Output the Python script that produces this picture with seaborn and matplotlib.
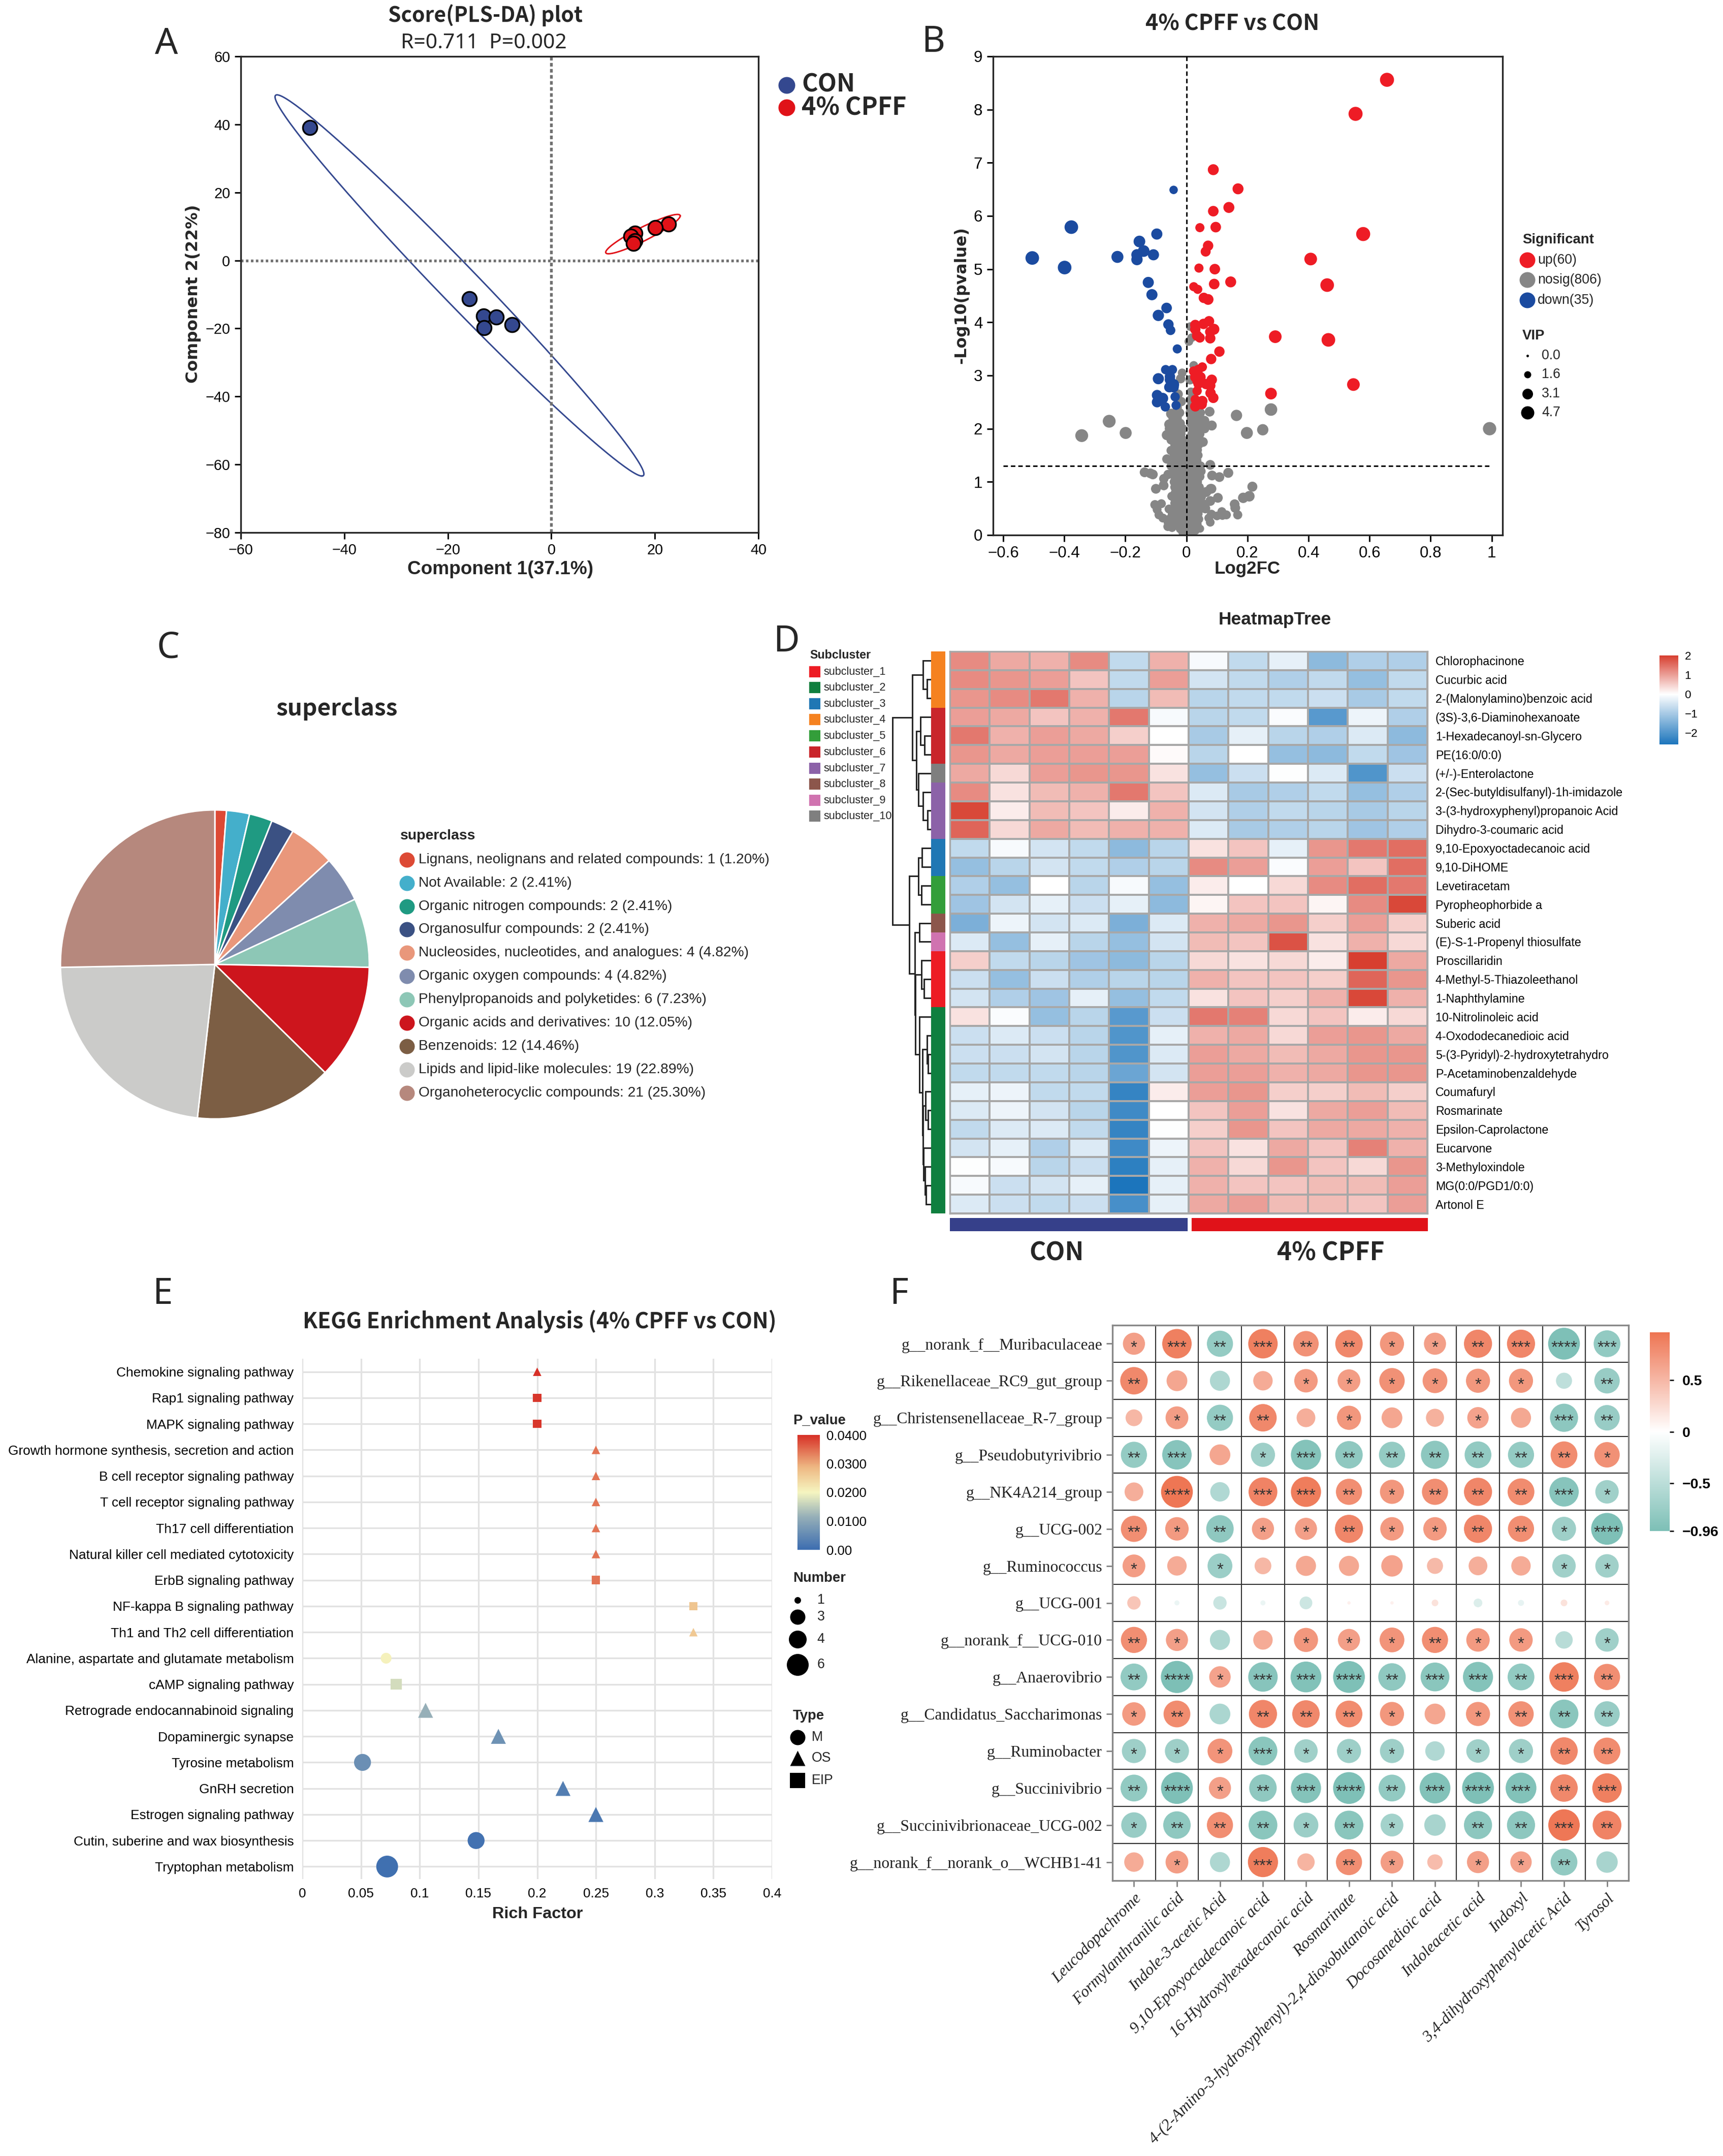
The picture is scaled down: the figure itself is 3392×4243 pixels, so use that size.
import numpy as np
import pandas as pd
import seaborn as sns
import matplotlib
matplotlib.use('Agg')
import matplotlib.pyplot as plt
from matplotlib.colors import LinearSegmentedColormap, ListedColormap, Normalize
from matplotlib.cm import ScalarMappable

W, H = 3392, 4243
DPI = 300
HEAD_FONT = 'Noto Sans CJK SC'

# ---------- panel A
con_x = [-46.7, -15.8, -13.1, -10.6, -13.0, -7.6]
con_y = [39.1, -11.3, -16.4, -16.7, -19.8, -18.9]
cpff_x = [22.6, 20.1, 16.2, 15.4, 16.2, 15.9]
cpff_y = [10.7, 9.7, 8.0, 7.1, 5.8, 5.0]
blue_ell = [-17.75, -7.35, 35.25, -56.05, 5.2, 0.0]
red_ell = [17.7, 7.75, 7.2, 5.35, 0.0, 2.2]

# ---------- panel B  (x, y, vip)
up_pts = [(.657, 8.56, 4.7), (.554, 7.92, 4.7), (.088, 6.87, 2.8), (.169, 6.51, 2.8), (.139, 6.16, 2.8),
          (.088, 6.09, 2.6), (.096, 5.79, 2.6), (.044, 5.78, 1.9), (.579, 5.66, 4.7), (.071, 5.44, 2.5),
          (.063, 5.33, 2.3), (.407, 5.19, 3.8), (.093, 5.0, 2.6), (.041, 5.02, 1.9), (.461, 4.70, 4.4),
          (.145, 4.76, 2.8), (.091, 4.72, 2.6), (.024, 4.67, 1.9), (.037, 4.62, 1.9), (.057, 4.46, 2.5),
          (.071, 4.43, 2.7), (.074, 4.02, 2.5), (.056, 3.97, 2.5), (.029, 3.95, 2.5), (.029, 3.87, 2.5),
          (.09, 3.87, 2.8), (.078, 3.82, 2.5), (.035, 3.75, 2.5), (.044, 3.71, 2.2), (.078, 3.70, 2.5),
          (.291, 3.73, 3.8), (.465, 3.67, 4.4), (.108, 3.45, 2.5), (.081, 3.31, 2.5), (.052, 3.16, 2.0),
          (.039, 3.11, 2.2), (.024, 3.08, 2.2), (.029, 2.97, 2.5), (.046, 2.97, 2.5), (.037, 2.90, 2.8),
          (.083, 2.92, 2.5), (.064, 2.84, 2.5), (.039, 2.84, 2.2), (.078, 2.81, 2.5), (.547, 2.83, 3.8),
          (.035, 2.71, 2.0), (.079, 2.67, 2.5), (.277, 2.66, 3.2), (.088, 2.58, 2.5), (.029, 2.55, 2.0),
          (.052, 2.52, 2.5), (.05, 2.46, 2.5), (.029, 2.42, 2.5)]
down_pts = [(-.377, 5.79, 4.4), (-.505, 5.21, 4.4), (-.399, 5.03, 4.4), (-.226, 5.23, 3.4), (-.097, 5.66, 2.9),
            (-.154, 5.52, 3.2), (-.14, 5.34, 3.2), (-.162, 5.27, 3.0), (-.108, 5.27, 2.9), (-.162, 5.18, 3.0),
            (-.042, 6.49, 1.6), (-.125, 4.75, 2.9), (-.113, 4.52, 2.9), (-.065, 4.27, 2.6), (-.092, 4.13, 3.0),
            (-.059, 3.96, 2.5), (-.052, 3.85, 2.1), (-.03, 3.50, 1.9), (-.068, 3.11, 2.0), (-.046, 3.11, 2.0),
            (-.092, 2.94, 2.9), (-.054, 2.98, 2.5), (-.054, 2.92, 2.5), (-.042, 2.83, 2.9), (-.056, 2.78, 2.5),
            (-.042, 2.78, 2.5), (-.096, 2.63, 2.6), (-.078, 2.57, 2.9), (-.096, 2.50, 2.6), (-.037, 2.60, 2.0),
            (-.069, 2.41, 2.0), (-.034, 2.44, 1.9)]
nosig_big = [(-.253, 2.14, 3.9), (-.343, 1.87, 3.9), (-.199, 1.92, 3.4), (.993, 2.0, 4.2), (.277, 2.36, 3.7),
             (.164, 2.25, 3.0), (.25, 1.98, 3.0), (.198, 1.92, 3.4)]
nosig_mid = [(.013, 3.92, 1.7), (.017, 3.71, 1.7), (.008, 3.64, 1.7), (.024, 3.19, 1.7), (-.014, 3.05, 1.7),
             (-.019, 2.94, 2.0), (.012, 2.92, 2.0), (-.027, 2.65, 2.0), (.015, 2.69, 1.8), (-.017, 2.51, 2.0),
             (.012, 2.54, 1.8), (.012, 2.40, 1.8), (.076, 2.32, 2.2), (.059, 2.15, 2.2), (.083, 2.06, 2.3),
             (.054, 1.75, 2.2), (.078, 1.32, 2.2), (.084, 1.12, 2.2), (.108, 1.09, 2.2), (.137, 1.17, 2.3),
             (.079, .87, 2.2), (.065, .81, 2.3), (.103, .70, 2.2), (.078, .64, 2.2), (.06, .57, 2.2), (.062, .5, 2.2),
             (.048, .72, 2.2), (.082, .87, 2.2), (.082, .39, 1.9), (.073, .32, 1.7), (.078, .24, 1.7), (.1, .36, 1.7),
             (.116, .44, 1.8), (.131, .38, 1.8), (.118, .37, 1.8), (.158, .58, 2.2), (.16, .51, 2.2), (.168, .38, 1.9),
             (.186, .70, 2.5), (.206, .73, 2.6), (.216, .91, 2.3), (.045, .12, 1.4), (.03, .08, 1.4), (-.013, .09, 1.4),
             (-.1, .87, 2.2), (-.075, .94, 2.0), (-.048, .73, 1.8), (-.082, .59, 1.8), (-.103, .57, 2.0),
             (-.096, .48, 1.8), (-.09, .38, 1.8), (-.077, .32, 1.8), (-.06, .24, 1.8), (-.061, .16, 1.8),
             (-.047, .14, 1.7), (-.057, .49, 1.8), (-.047, .39, 1.7), (-.057, .3, 1.7), (-.038, .22, 1.7),
             (-.03, .36, 1.6), (-.137, 1.18, 2.2), (-.118, 1.16, 2.2), (-.11, 1.14, 2.2), (-.074, 1.06, 2.0),
             (-.074, .93, 2.0), (-.06, 1.14, 2.0), (-.064, 1.43, 2.0), (-.05, 1.59, 2.0), (-.05, 1.79, 2.0),
             (-.064, 1.88, 2.4), (-.056, 2.08, 2.4), (-.04, 2.26, 2.4), (-.05, 2.28, 2.4)]
# grey column around zero, read level by level
nosig_rows = {
    .06: [-.012, .0, .012, .02], .12: [-.02, -.006, .006, .016, .03], .2: [-.028, -.014, .0, .01, .022, .035],
    .3: [-.03, -.018, -.006, .006, .018, .03, .04], .4: [-.035, -.022, -.01, .002, .014, .026, .038],
    .5: [-.04, -.026, -.012, .0, .012, .024, .036, .046], .6: [-.038, -.024, -.01, .004, .016, .028, .04, .05],
    .7: [-.04, -.028, -.014, .0, .01, .022, .034, .044], .8: [-.036, -.024, -.01, .002, .014, .026, .038],
    .9: [-.038, -.026, -.012, .004, .016, .03, .042], 1.0: [-.04, -.028, -.014, .0, .012, .024, .036],
    1.1: [-.038, -.024, -.01, .006, .018, .03, .044], 1.2: [-.042, -.03, -.016, .002, .014, .026, .038, .048],
    1.3: [-.05, -.034, -.02, -.006, .01, .022, .034, .046], 1.4: [-.036, -.022, -.008, .008, .02, .034],
    1.5: [-.04, -.026, -.012, .012, .024, .038], 1.6: [-.034, -.02, -.006, .01, .022, .036],
    1.7: [-.038, -.024, -.012, .014, .026, .04], 1.8: [-.042, -.028, -.014, .012, .022, .032],
    1.9: [-.05, -.034, -.018, .018, .03, .044], 2.0: [-.056, -.042, -.026, -.012, .02, .034, .05, .06],
    2.1: [-.05, -.036, -.02, .014, .028, .042, .056], 2.2: [-.044, -.03, .016, .03, .044],
    2.3: [-.036, -.022, .012, .034, .046], 2.4: [-.03, .02, .04]}

sig_labels = ['up(60)', 'nosig(806)', 'down(35)']
vip_labels = ['0.0', '1.6', '3.1', '4.7']

# ---------- panel C
super_names = ['Lignans, neolignans and related compounds', 'Not Available', 'Organic nitrogen compounds',
               'Organosulfur compounds', 'Nucleosides, nucleotides, and analogues', 'Organic oxygen compounds',
               'Phenylpropanoids and polyketides', 'Organic acids and derivatives', 'Benzenoids',
               'Lipids and lipid-like molecules', 'Organoheterocyclic compounds']
super_vals = [1, 2, 2, 2, 4, 4, 6, 10, 12, 19, 21]
super_pct = ['1.20', '2.41', '2.41', '2.41', '4.82', '4.82', '7.23', '12.05', '14.46', '22.89', '25.30']
super_cols = ['#dd4a35', '#44afcb', '#1f9a82', '#3b5183', '#e9977b', '#7f8cae', '#8dc7b6', '#cd151d', '#7c5e44',
              '#cbcbc9', '#b6887d']

# ---------- panel D
met_names = ['Chlorophacinone', 'Cucurbic acid', '2-(Malonylamino)benzoic acid', '(3S)-3,6-Diaminohexanoate',
             '1-Hexadecanoyl-sn-Glycero', 'PE(16:0/0:0)', '(+/-)-Enterolactone', '2-(Sec-butyldisulfanyl)-1h-imidazole',
             '3-(3-hydroxyphenyl)propanoic Acid', 'Dihydro-3-coumaric acid', '9,10-Epoxyoctadecanoic acid', '9,10-DiHOME',
             'Levetiracetam', 'Pyropheophorbide a', 'Suberic acid', '(E)-S-1-Propenyl thiosulfate', 'Proscillaridin',
             '4-Methyl-5-Thiazoleethanol', '1-Naphthylamine', '10-Nitrolinoleic acid', '4-Oxododecanedioic acid',
             '5-(3-Pyridyl)-2-hydroxytetrahydro', 'P-Acetaminobenzaldehyde', 'Coumafuryl', 'Rosmarinate',
             'Epsilon-Caprolactone', 'Eucarvone', '3-Methyloxindole', 'MG(0:0/PGD1/0:0)', 'Artonol E']
heat_vals = [
    [1.2, .9, .8, 1.2, -.7, .8, -.1, -.7, -.3, -1.3, -.9, -.9],
    [1.2, 1.1, 1.0, .6, -.7, 1.0, -.5, -.7, -.9, -.7, -1.2, -.7],
    [1.1, 1.2, 1.4, .8, -.8, .7, -.8, -.7, -.7, -.6, -1.0, -.7],
    [1.0, .9, .6, .8, 1.4, -.1, -.8, -.7, -.05, -1.9, -.2, -.9],
    [1.4, .8, 1.0, .9, .5, 0, -1.0, -.3, -.8, -.9, -.4, -1.3],
    [1.1, .9, 1.0, 1.0, 1.0, .05, -.8, 0, -1.2, -1.3, -.7, -1.1],
    [.9, .4, 1.0, 1.1, 1.1, .3, -1.2, -.6, -.03, -.4, -2.0, -.6],
    [1.2, .3, .7, .8, 1.4, .6, -.4, -1.0, -.9, -.7, -1.2, -.9],
    [1.9, .2, .7, .6, .2, .8, -.5, -.9, -.7, -.8, -1.0, -.8],
    [1.6, .4, .9, .7, .8, .8, -.4, -1.0, -.9, -.8, -1.1, -.9],
    [-.7, -.1, -.5, -.7, -1.3, -.8, .3, .6, -.3, 1.1, 1.4, 1.5],
    [-1.2, -.8, -.5, -.7, -.9, -.8, 1.2, 1.0, -.05, 1.0, .6, 1.5],
    [-.9, -1.2, 0, -.8, -.1, -1.2, .2, 0, .4, 1.2, 1.5, 1.4],
    [-1.1, -.5, -.3, -.6, -.3, -1.3, .1, .6, .6, .1, 1.2, 1.9],
    [-1.5, -.2, -.5, -.4, -1.5, -.4, .8, .9, 1.1, .5, 1.0, .5],
    [-.4, -1.2, -.3, -.8, -1.2, -.5, .7, .6, 1.8, .3, .8, .4],
    [.5, -.7, -.8, -1.1, -1.3, -.8, .4, .3, .4, .2, 2.0, .9],
    [-.6, -1.2, -.6, -.9, -.8, -.8, .8, .6, .6, .5, 1.6, 1.1],
    [-.5, -.9, -1.1, -.3, -1.2, -.7, .3, .6, .5, .8, 1.9, .8],
    [.3, -.05, -1.2, -.8, -1.9, -.6, 1.4, 1.3, .4, .6, .2, .4],
    [-.6, -.4, -.6, -.8, -2.0, -.3, .8, .9, .4, 1.0, 1.1, .9],
    [-.6, -.6, -.5, -.8, -2.0, -.4, 1.0, .9, .7, .9, 1.1, 1.1],
    [-.7, -.7, -.7, -.8, -1.7, -.5, 1.0, 1.0, .8, .9, 1.1, 1.1],
    [-.3, -.2, -.7, -.7, -2.3, .2, 1.0, 1.1, .5, .5, .7, .5],
    [-.4, -.2, -.5, -.8, -2.2, 0, .6, 1.0, .3, .9, 1.0, .7],
    [-.7, -.4, -.4, -.7, -2.3, -.02, .5, 1.1, .6, .9, .9, .8],
    [-.5, -.3, -.9, -.4, -2.2, -.2, .6, .3, .9, .6, 1.3, .8],
    [-.02, -.1, -.8, -.6, -2.4, -.3, .8, .4, 1.1, .6, .4, 1.1],
    [-.1, -.6, -.5, -.3, -2.6, -.3, .8, .6, .6, .7, .7, 1.0],
    [-.4, -.6, -.7, -.6, -2.1, -.3, .9, 1.0, .7, .7, .6, 1.0]]
sub_names = ['subcluster_%d' % i for i in range(1, 11)]
sub_cols = ['#ed1c24', '#0f7f3f', '#1f77b4', '#f58220', '#339e3a', '#c9252b', '#8c62a8', '#8c564b', '#d073b0', '#7f7f7f']
row_sub = [3, 3, 3, 5, 5, 5, 9, 6, 6, 6, 2, 2, 4, 4, 7, 8, 0, 0, 0] + [1] * 11
# dendrogram: (height, child, child), leaves are row numbers
tree = (76,
        (37,
         (16, 0, (8, 1, 2)),
         (29,
          (21, 3, (13, 4, 5)),
          (25, 6, (16, 7, (7, 8, 9))))),
        (43,
         (25, (18, 10, 11), (19, 12, 13)),
         (32,
          (23, 14, 15),
          (31,
           (19, 16, (14, 17, 18)),
           (23, 19,
            (17,
             (8, 20, (6, 21, 22)),
             (16,
              (11, 23, (6, 24, 25)),
              (15, 26, (12, 27, (10, 28, 29))))))))))

# ---------- panel E
path_names = ['Chemokine signaling pathway', 'Rap1 signaling pathway', 'MAPK signaling pathway',
              'Growth hormone synthesis, secretion and action', 'B cell receptor signaling pathway',
              'T cell receptor signaling pathway', 'Th17 cell differentiation', 'Natural killer cell mediated cytotoxicity',
              'ErbB signaling pathway', 'NF-kappa B signaling pathway', 'Th1 and Th2 cell differentiation',
              'Alanine, aspartate and glutamate metabolism', 'cAMP signaling pathway', 'Retrograde endocannabinoid signaling',
              'Dopaminergic synapse', 'Tyrosine metabolism', 'GnRH secretion', 'Estrogen signaling pathway',
              'Cutin, suberine and wax biosynthesis', 'Tryptophan metabolism']
rich = [.2, .2, .2, .25, .25, .25, .25, .25, .25, .333, .333, .0714, .08, .105, .167, .0513, .222, .25, .148, .0723]
pval = [.04, .0395, .0395, .0345, .0345, .0345, .0345, .0345, .0345, .027, .0265, .0205, .017, .0115, .0065, .006, .003,
        .002, .001, .0005]
number = [1, 1, 1, 1, 1, 1, 1, 1, 1, 1, 1, 2, 2, 3, 3, 4, 3, 3, 4, 6]
ptype = ['OS', 'EIP', 'EIP', 'OS', 'OS', 'OS', 'OS', 'OS', 'EIP', 'EIP', 'OS', 'M', 'EIP', 'OS', 'OS', 'M', 'OS', 'OS', 'M', 'M']

# ---------- panel F
genus = ['g__norank_f__Muribaculaceae', 'g__Rikenellaceae_RC9_gut_group', 'g__Christensenellaceae_R-7_group',
         'g__Pseudobutyrivibrio', 'g__NK4A214_group', 'g__UCG-002', 'g__Ruminococcus', 'g__UCG-001', 'g__norank_f__UCG-010',
         'g__Anaerovibrio', 'g__Candidatus_Saccharimonas', 'g__Ruminobacter', 'g__Succinivibrio',
         'g__Succinivibrionaceae_UCG-002', 'g__norank_f__norank_o__WCHB1-41']
metab = ['Leucodopachrome', 'Formylanthranilic acid', 'Indole-3-acetic Acid', '9,10-Epoxyoctadecanoic acid',
         '16-Hydroxyhexadecanoic acid', 'Rosmarinate', '4-(2-Amino-3-hydroxyphenyl)-2,4-dioxobutanoic acid',
         'Docosanedioic acid', 'Indoleacetic acid', 'Indoxyl', '3,4-dihydroxyphenylacetic Acid', 'Tyrosol']
corr = [[.66, .88, -.78, .88, .76, .82, .72, .66, .84, .84, -.95, -.80],
        [.82, .62, -.6, .58, .7, .68, .76, .74, .72, .72, -.48, -.76],
        [.5, .68, -.78, .82, .56, .72, .62, .54, .64, .6, -.84, -.76],
        [-.78, -.88, .62, -.72, -.9, -.82, -.78, -.84, -.8, -.78, .8, .76],
        [.56, .95, -.58, .86, .9, .78, .72, .78, .84, .8, -.88, -.7],
        [.78, .7, -.82, .66, .66, .84, .7, .7, .84, .78, -.72, -.95],
        [.68, .58, -.74, .5, .6, .6, .64, .48, .56, .58, -.7, -.7],
        [.4, -.15, -.4, -.15, -.38, .1, .1, .2, -.26, -.18, .2, .14],
        [.78, .66, -.6, .58, .72, .66, .74, .78, .7, .7, -.52, -.7],
        [-.8, -.96, .64, -.88, -.92, -.95, -.82, -.86, -.9, -.8, .88, .78],
        [.7, .8, -.62, .84, .82, .8, .72, .62, .72, .76, -.86, -.76],
        [-.72, -.72, .74, -.86, -.7, -.72, -.72, -.58, -.7, -.72, .82, .8],
        [-.8, -.95, .66, -.82, -.9, -.95, -.8, -.92, -.95, -.92, .82, .88],
        [-.76, -.82, .78, -.86, -.74, -.86, -.68, -.64, -.84, -.84, .94, .86],
        [.58, .68, -.6, .9, .52, .78, .68, .46, .66, .64, -.8, -.64]]
stars = [[1, 3, 2, 3, 2, 2, 1, 1, 2, 3, 4, 3],
         [2, 0, 0, 0, 1, 1, 1, 1, 1, 1, 0, 2],
         [0, 1, 2, 2, 0, 1, 0, 0, 1, 0, 3, 2],
         [2, 3, 0, 1, 3, 2, 2, 2, 2, 2, 2, 1],
         [0, 4, 0, 3, 3, 2, 1, 2, 2, 2, 3, 1],
         [2, 1, 2, 1, 1, 2, 1, 1, 2, 2, 1, 4],
         [1, 0, 1, 0, 0, 0, 0, 0, 0, 0, 1, 1],
         [0, 0, 0, 0, 0, 0, 0, 0, 0, 0, 0, 0],
         [2, 1, 0, 0, 1, 1, 1, 2, 1, 1, 0, 1],
         [2, 4, 1, 3, 3, 4, 2, 3, 3, 2, 3, 2],
         [1, 2, 0, 2, 2, 2, 1, 0, 1, 2, 2, 2],
         [1, 1, 1, 3, 1, 1, 1, 0, 1, 1, 2, 2],
         [2, 4, 1, 2, 3, 4, 2, 3, 4, 3, 2, 3],
         [1, 2, 2, 2, 1, 2, 1, 0, 2, 2, 3, 2],
         [0, 1, 0, 3, 0, 2, 1, 0, 1, 1, 2, 0]]

sns.set_style('ticks')
plt.rcParams['font.family'] = ['Liberation Sans', 'DejaVu Sans']
plt.rcParams['axes.linewidth'] = 0.8
plt.rcParams['xtick.major.width'] = 0.7
plt.rcParams['ytick.major.width'] = 0.7
plt.rcParams['xtick.color'] = 'black'
plt.rcParams['ytick.color'] = 'black'

fig = plt.figure(figsize=(W / DPI, H / DPI), dpi=DPI)


def box(l, t, r, b):
    # axes from pixel edges of the page
    return fig.add_axes([l / W, 1 - b / H, (r - l) / W, (b - t) / H])


def px(d):
    # marker area for a diameter given in page pixels
    return (d * 72 / DPI) ** 2


ov = fig.add_axes([0, 0, 1, 1], zorder=20)
ov.set_xlim(0, W)
ov.set_ylim(H, 0)
ov.axis('off')


def label(x, y, s, size=6.7, ha='left', bold=False, fam='Liberation Sans', **kw):
    ov.text(x, y, s, fontsize=size, ha=ha, va='center', family=fam, fontweight='bold' if bold else 'normal', **kw)


for let, lx, ly in [('A', 328, 88), ('B', 1837, 84), ('C', 331, 1276), ('D', 1548, 1264), ('E', 320, 2548), ('F', 1770, 2548)]:
    label(lx, ly, let, size=17, ha='center', fam='Noto Sans')

# ---- A
ax = box(474, 111, 1493, 1048)
for ell, c in [(blue_ell, '#34488f'), (red_ell, '#e01218')]:
    t = np.linspace(0, 2 * np.pi, 200)
    ax.plot(ell[0] + ell[2] * np.cos(t) + ell[4] * np.sin(t), ell[1] + ell[3] * np.cos(t) + ell[5] * np.sin(t), color=c, lw=0.7)
ax.axhline(0, color='#707070', lw=1.3, ls=(0, (0.9, 0.9)))
ax.axvline(0, color='#707070', lw=1.3, ls=(0, (1.3, 0.9)))
sns.scatterplot(x=con_x, y=con_y, color='#34488f', s=46, edgecolor='black', linewidth=0.8, ax=ax, zorder=3)
sns.scatterplot(x=cpff_x, y=cpff_y, color='#e01218', s=46, edgecolor='black', linewidth=0.8, ax=ax, zorder=3)
ax.set_xlim(-60, 40)
ax.set_ylim(-80, 60)
ax.set_xticks(range(-60, 41, 20))
ax.set_yticks(range(-80, 61, 20))
ax.tick_params(labelsize=6.9, length=3, pad=2)
label(956, 30, 'Score(PLS-DA) plot', size=9.8, ha='center', bold=True, fam=HEAD_FONT)
label(952, 85, 'R=0.711  P=0.002', size=9.8, ha='center', fam='Noto Sans')
label(985, 1121, 'Component 1(37.1%)', size=8.9, ha='center', bold=True)
label(380, 578, 'Component 2(22%)', size=7.8, ha='center', bold=True, fam='DejaVu Sans', rotation=90)
ov.scatter([1549, 1549], [168, 212], s=px(33), c=['#34488f', '#e01218'], linewidths=0)
label(1578, 166, 'CON', size=11.6, bold=True, fam=HEAD_FONT)
label(1578, 212, '4% CPFF', size=11.6, bold=True, fam=HEAD_FONT)

# ---- B
ax = box(1955, 111, 2958, 1053)
nosig_core = [(x, y, 1.9) for y, xs in nosig_rows.items() for x in xs]
rows = [('nosig',) + p for p in nosig_core + nosig_mid + nosig_big] + [('down',) + p for p in down_pts] + [('up',) + p for p in up_pts]
volcano = pd.DataFrame(rows, columns=['group', 'log2fc', 'logp', 'vip'])
sns.scatterplot(data=volcano, x='log2fc', y='logp', hue='group', size='vip', sizes=(1.4, 44), size_norm=(0, 4.7),
                palette={'up': '#ee1c25', 'nosig': '#868686', 'down': '#1b4ba0'}, linewidth=0, legend=False, ax=ax)
ax.axvline(0, color='black', lw=0.7, ls=(0, (3, 2)), zorder=4)
ax.plot([-0.6, 1.0], [1.3, 1.3], color='black', lw=0.7, ls=(0, (3, 2)), zorder=4)
ax.set_xlim(-0.6334, 1.0355)
ax.set_ylim(0, 9)
ax.set_xticks(np.arange(-0.6, 1.01, 0.2))
ax.set_xticklabels(['\u22120.6', '\u22120.4', '\u22120.2', '0', '0.2', '0.4', '0.6', '0.8', '1'])
ax.set_yticks(range(10))
ax.tick_params(labelsize=7.5, length=3, pad=2)
ax.set_xlabel('')
ax.set_ylabel('')
label(2426, 47, '4% CPFF vs CON', size=10.3, ha='center', bold=True, fam=HEAD_FONT)
label(2456, 1120, 'Log2FC', size=8.4, ha='center', bold=True)
label(1893, 581, '-Log10(pvalue)', size=7.6, ha='center', bold=True, fam='DejaVu Sans', rotation=90)
label(2997, 472, 'Significant', size=6.6, bold=True)
ov.scatter([3007] * 3, [512, 551, 591], s=px(31), c=['#ee1c25', '#868686', '#1b4ba0'], linewidths=0)
for yy, s in zip([512, 551, 591], sig_labels):
    label(3027, yy, s, size=6.4)
label(2997, 661, 'VIP', size=6.6, bold=True)
for yy, d, s in zip([700, 737, 775, 812], [5, 14, 21, 26], vip_labels):
    ov.scatter([3007], [yy], s=px(d), c='black', linewidths=0)
    label(3035, yy, s, size=6.4)

# ---- C
ax = box(119, 1594, 727, 2202)
ax.pie(super_vals, colors=super_cols, startangle=90, counterclock=False, radius=1,
       wedgeprops={'edgecolor': 'white', 'linewidth': 0.7})
ax.set_xlim(-1, 1)
ax.set_ylim(-1, 1)
label(663, 1395, 'superclass', size=11, ha='center', bold=True, fam=HEAD_FONT)
label(788, 1645, 'superclass', size=6.8, bold=True)
for i, yy in enumerate([1692, 1738, 1784, 1829, 1875, 1921, 1967, 2013, 2059, 2105, 2151]):
    ov.scatter([801], [yy], s=px(30), c=super_cols[i], linewidths=0)
    label(824, yy, '%s: %d (%s%%)' % (super_names[i], super_vals[i], super_pct[i]), size=6.75)

# ---- D
heat_cmap = LinearSegmentedColormap.from_list('hm', [(0, '#1c75bc'), (2.6 / 4.6, '#ffffff'), (1, '#d73f30')])
ax = box(1870, 1282, 2810, 2388)
sns.heatmap(np.array(heat_vals), cmap=heat_cmap, vmin=-2.6, vmax=2, cbar=False, linewidths=0.55, linecolor='#a8a8a8',
            xticklabels=False, yticklabels=met_names, ax=ax)
ax.yaxis.tick_right()
ax.tick_params(axis='y', length=0, pad=3.8, labelsize=5.6, labelrotation=0)
for s in ax.spines.values():
    s.set_visible(True)
    s.set_color('#a8a8a8')
ax = box(1833, 1282, 1861, 2388)
sns.heatmap(np.array(row_sub).reshape(-1, 1), cmap=ListedColormap(sub_cols), vmin=-0.5, vmax=9.5, cbar=False,
            xticklabels=False, yticklabels=False, ax=ax)
ax = box(1755, 1282, 1833, 2388)


def draw_tree(node):
    # returns the row position of a node after drawing it
    if not isinstance(node, tuple):
        return node + 0.5, 0
    h, a, b = node
    ya, ha = draw_tree(a)
    yb, hb = draw_tree(b)
    ax.plot([ha, h, h, hb], [ya, ya, yb, yb], color='#222222', lw=0.7, solid_joinstyle='miter')
    return (ya + yb) / 2, h


draw_tree(tree)
ax.set_xlim(78, 0)
ax.set_ylim(30, 0)
ax.axis('off')
label(2510, 1220, 'HeatmapTree', size=8.5, ha='center', bold=True)
label(1594, 1289, 'Subcluster', size=5.6, bold=True)
for yy, s, c in zip([1322, 1353, 1385, 1416, 1448, 1480, 1512, 1543, 1575, 1606], sub_names, sub_cols):
    ov.scatter([1604], [yy], s=px(22), c=c, marker='s', linewidths=0)
    label(1621, yy, s, size=5.2)
cax = box(3267, 1290, 3304, 1465)
cb = fig.colorbar(ScalarMappable(Normalize(-2.6, 2), heat_cmap), cax=cax)
cb.set_ticks([2, 1, 0, -1, -2])
cb.ax.tick_params(length=0, labelsize=5.4, pad=3)
cb.outline.set_visible(False)
ax = box(1870, 2397, 2338, 2423)
ax.axhspan(0, 1, color='#36408a')
ax.axis('off')
ax = box(2346, 2397, 2811, 2423)
ax.axhspan(0, 1, color='#e01219')
ax.axis('off')
label(2080, 2466, 'CON', size=11.9, ha='center', bold=True, fam=HEAD_FONT)
label(2620, 2466, '4% CPFF', size=11.9, ha='center', bold=True, fam=HEAD_FONT)

# ---- E
p_cmap = LinearSegmentedColormap.from_list('pv', [(0, '#3c6db0'), (.29, '#97b0b8'), (.5, '#f5f5c0'), (.72, '#eeb883'), (1, '#d73027')])
ax = box(595, 2674, 1520, 3698)
kegg = pd.DataFrame({'pathway': path_names, 'rich': rich, 'p': pval, 'num': number, 'type': ptype})
kegg['row'] = kegg.index
ax.set_axisbelow(True)
ax.grid(True, color='#e2e2e2', lw=0.8)
sns.scatterplot(data=kegg, x='rich', y='row', hue='p', hue_norm=(0, .04), palette=p_cmap, size='num',
                sizes={1: 16, 2: 26, 3: 50, 4: 64, 6: 106}, style='type', markers={'M': 'o', 'OS': '^', 'EIP': 's'},
                linewidth=0, legend=False, ax=ax, zorder=3, clip_on=False)
ax.set_xlim(0, 0.4)
ax.set_ylim(19.48, -0.5)
ax.set_xticks(np.arange(0, 0.41, 0.05))
ax.set_xticklabels(['0', '0.05', '0.1', '0.15', '0.2', '0.25', '0.3', '0.35', '0.4'])
ax.set_yticks(range(20))
ax.set_yticklabels(path_names)
ax.tick_params(length=0, labelsize=6.3, pad=4)
ax.set_xlabel('')
ax.set_ylabel('')
sns.despine(ax=ax, left=True, bottom=True)
label(1062, 2600, 'KEGG Enrichment Analysis (4% CPFF vs CON)', size=10.2, ha='center', bold=True, fam=HEAD_FONT)
label(1058, 3767, 'Rich Factor', size=7.8, ha='center', bold=True)
label(1561, 2796, 'P_value', size=6.6, bold=True)
cax = box(1570, 2824, 1614, 3050)
cb = fig.colorbar(ScalarMappable(Normalize(0, .04), p_cmap), cax=cax)
cb.set_ticks([0, .01, .02, .03, .04])
cb.set_ticklabels(['0.00', '0.0100', '0.0200', '0.0300', '0.0400'])
cb.ax.tick_params(length=0, labelsize=6.2, pad=3)
cb.outline.set_visible(False)
label(1561, 3106, 'Number', size=6.6, bold=True)
for yy, d, s in zip([3149, 3182, 3226, 3276], [13, 30, 35, 43], ['1', '3', '4', '6']):
    ov.scatter([1570], [yy], s=px(d), c='black', linewidths=0)
    label(1616, yy, s, size=6.4, ha='center')
label(1561, 3377, 'Type', size=6.6, bold=True)
for yy, m, s in zip([3419, 3460, 3504], ['o', '^', 's'], ['M', 'OS', 'EIP']):
    ov.scatter([1570], [yy], s=px(30), c='black', marker=m, linewidths=0)
    label(1598, yy, s, size=6.4)

# ---- F
f_cmap = LinearSegmentedColormap.from_list('cor', ['#7dbfb6', '#ffffff', '#ee7553'])
ax = box(2190, 2608, 3206, 3701)
cells = pd.DataFrame([(j + .5, i + .5, corr[i][j]) for i in range(15) for j in range(12)], columns=['col', 'row', 'r'])
cells['area'] = cells['r'] ** 2
sns.scatterplot(data=cells, x='col', y='row', hue='r', hue_norm=(-.96, .96), palette=f_cmap, size='area', sizes=(0, 250),
                size_norm=(0, 1), linewidth=0, legend=False, ax=ax, zorder=3)
for i in range(15):
    for j in range(12):
        if stars[i][j]:
            ax.text(j + .5, i + .61, '*' * stars[i][j], ha='center', va='center', fontsize=8, color='#333333', zorder=4)
ax.hlines(range(1, 15), 0, 12, color='#333333', lw=0.5)
ax.vlines(range(1, 12), 0, 15, color='#333333', lw=0.5)
ax.set_xlim(0, 12)
ax.set_ylim(15, 0)
ax.set_xticks(np.arange(12) + .5)
ax.set_yticks(np.arange(15) + .5)
ax.set_yticklabels(genus, family='Liberation Serif', fontsize=7.6, color='#222222')
ax.set_xticklabels(metab, family='Liberation Serif', style='italic', fontsize=7.6, rotation=45, ha='right', va='top',
                   rotation_mode='anchor', color='#222222')
ax.tick_params(length=2.8, width=0.6, color='#777777', pad=2)
ax.set_xlabel('')
ax.set_ylabel('')
for s in ax.spines.values():
    s.set_color('#888888')
cax = box(3248, 2622, 3287, 3013)
cb = fig.colorbar(ScalarMappable(Normalize(-.96, .96), f_cmap), cax=cax)
cb.set_ticks([.5, 0, -.5, -.96])
cb.set_ticklabels(['0.5', '0', '\u22120.5', '\u22120.96'])
cb.ax.tick_params(length=2, width=0.6, labelsize=6.8, pad=4)
for t in cb.ax.get_yticklabels():
    t.set_fontweight('bold')
cb.outline.set_visible(False)

fig.savefig('out.png', dpi=DPI)
